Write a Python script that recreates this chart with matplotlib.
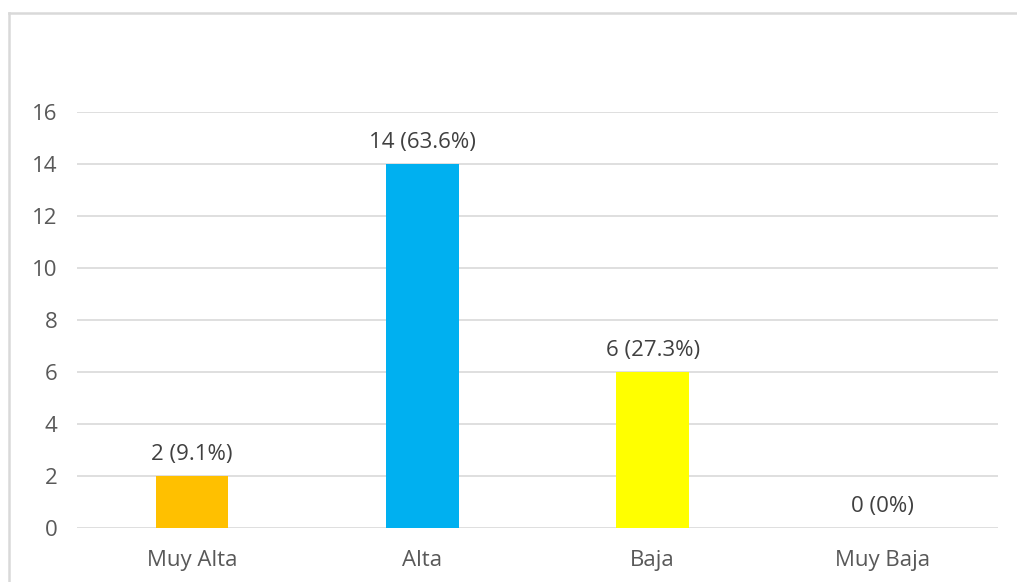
import matplotlib
matplotlib.use("Agg")
import matplotlib.pyplot as plt
from matplotlib.lines import Line2D

categories = ["Muy Alta", "Alta", "Baja", "Muy Baja"]
values = [2, 14, 6, 0]
labels = ["2 (9.1%)", "14 (63.6%)", "6 (27.3%)", "0 (0%)"]
colors = ["#FFC000", "#00B0F0", "#FFFF00", "#A5A5A5"]
yticks = [0, 2, 4, 6, 8, 10, 12, 14, 16]

plt.rcParams['font.family'] = ['Open Sans', 'DejaVu Sans']

W, H = 1017, 582
fig = plt.figure(figsize=(W / 100, H / 100), dpi=100)
fig.patch.set_facecolor("white")
ax = fig.add_axes([77 / W, (H - 528) / H, (998 - 77) / W, (528 - 112) / H])

x = list(range(len(categories)))
ax.bar(x, values, width=0.315, color=colors, zorder=3)
ax.set_xlim(-0.5, 3.5)
ax.set_ylim(0, 16)
ax.set_yticks(yticks)
ax.set_xticks(x)
ax.set_xticklabels(categories)
ax.grid(axis="y", color="#D9D9D9", linewidth=1.2, zorder=0)
for s in ax.spines.values():
    s.set_visible(False)
ax.tick_params(axis="both", length=0, labelsize=16, colors="#595959")
ax.tick_params(axis="x", pad=16)
ax.tick_params(axis="y", pad=14)

for xi, v, lab in zip(x, values, labels):
    ax.annotate(lab, (xi, v), xytext=(0, 8), textcoords="offset points",
                ha="center", va="bottom", fontsize=16, color="#404040")

fig.add_artist(Line2D([9 / W, 1], [1 - 13 / H, 1 - 13 / H], color="#D9D9D9", linewidth=1.8, transform=fig.transFigure))
fig.add_artist(Line2D([9 / W, 9 / W], [0, 1 - 13 / H], color="#D9D9D9", linewidth=1.8, transform=fig.transFigure))

fig.savefig("out.png", dpi=100, facecolor="white")
